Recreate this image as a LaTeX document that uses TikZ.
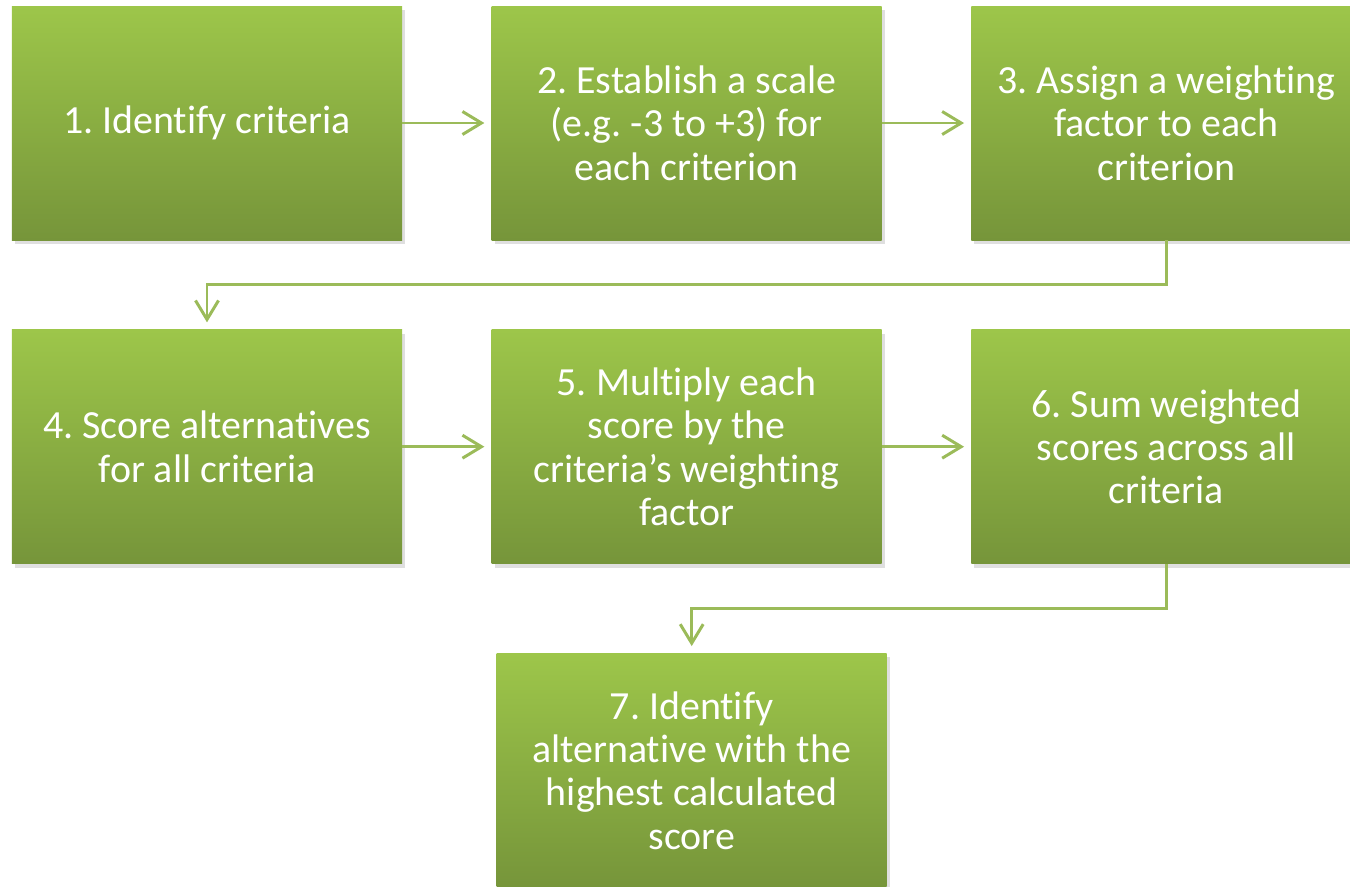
\documentclass[tikz,border=0pt]{standalone}
\usepackage{fontspec}
\setmainfont{Carlito}[Ligatures=NoCommon]
\frenchspacing
\usetikzlibrary{positioning,arrows.meta,shadows}
\definecolor{boxtop}{HTML}{9DC64A}
\definecolor{boxbot}{HTML}{76953A}
\definecolor{flowline}{HTML}{9BBB59}
\begin{document}
\begin{tikzpicture}
    [stepbox/.style={rectangle, minimum width=7.8cm, minimum height=4.68cm,
      top color=boxtop, bottom color=boxbot, text=white,
      align=center, inner sep=0pt, font=\fontsize{22.7}{24.7}\selectfont,
      drop shadow={shadow xshift=0.06cm, shadow yshift=-0.08cm, opacity=0.25}},
    flow/.style={draw=flowline, line width=1.7pt,
      -{Straight Barb[length=3.8mm,width=4.6mm,line width=1.7pt]},
      shorten >=0.14cm},
    node distance=1.78cm]
    \useasboundingbox (0,0) rectangle (27,-17.72);
    \node[stepbox] (b1) at (4.14,-2.46) {1. Identify criteria};
    \node[stepbox, right=of b1] (b2) {2. Establish a scale\\(e.g. -3 to +3) for\\each criterion};
    \node[stepbox, right=of b2] (b3) {3. Assign a weighting\\factor to each\\criterion};
    \node[stepbox, below=of b1] (b4) {4. Score alternatives\\for all criteria};
    \node[stepbox, right=of b4] (b5) {5. Multiply each\\score by the\\criteria’s weighting\\factor};
    \node[stepbox, right=of b5] (b6) {6. Sum weighted\\scores across all\\criteria};
    \node[stepbox, below=of b5, xshift=0.1cm] (b7) {7. Identify\\alternative with the\\highest calculated\\score};
    % connectors
    \draw[flow] (b1) -- (b2);
    \draw[flow] (b2) -- (b3);
    \draw[flow] (b3.south) -- ++(0,-0.89) -| (b4.north);
    \draw[flow] (b4) -- (b5);
    \draw[flow] (b5) -- (b6);
    \draw[flow] (b6.south) -- ++(0,-0.89) -| (b7.north);
\end{tikzpicture}
\end{document}
